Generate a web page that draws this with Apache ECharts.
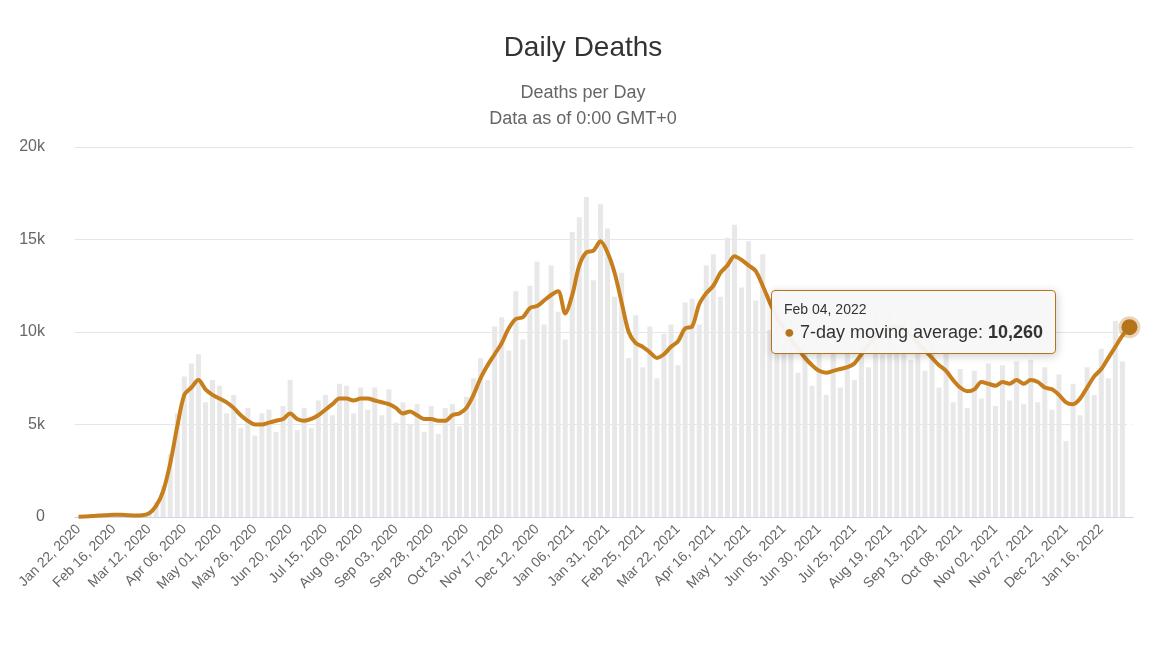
<!DOCTYPE html>
<html><head><meta charset="utf-8">
<script src="https://cdn.jsdelivr.net/npm/echarts@6/dist/echarts.min.js"></script>
<style>html,body{margin:0;padding:0;background:#fff}#c{width:1166px;height:653px}</style>
</head><body><div id="c"></div>
<script>
// sampled every 5 days from Jan 22, 2020; last point Feb 04, 2022 (thousands)
const startDate = "2020-01-22";
const stepDays = 5;
const lastDate = "2022-02-04";
const movingAvg = [0.02,0.03,0.05,0.08,0.1,0.12,0.12,0.1,0.08,0.09,
0.2,0.6,1.4,2.9,4.9,6.6,7.0,7.4,6.9,6.6,
6.4,6.2,5.9,5.5,5.2,5.0,5.0,5.1,5.2,5.3,
5.6,5.3,5.2,5.3,5.5,5.8,6.1,6.4,6.4,6.3,
6.4,6.4,6.3,6.2,6.1,5.9,5.6,5.7,5.5,5.3,
5.3,5.2,5.2,5.5,5.6,5.9,6.6,7.5,8.2,8.8,
9.4,10.2,10.7,10.8,11.3,11.4,11.7,12.0,12.2,11.0,
12.0,13.6,14.3,14.4,14.9,14.3,13.2,11.6,10.0,9.4,
9.2,8.9,8.6,8.8,9.2,9.5,10.2,10.3,11.5,12.1,
12.5,13.2,13.6,14.1,13.9,13.6,13.3,12.5,11.6,10.8,
10.2,9.6,9.1,8.6,8.2,7.9,7.8,7.9,8.0,8.1,
8.3,8.8,9.3,9.8,10.0,10.2,10.3,10.2,9.8,9.4,
9.0,8.6,8.2,7.9,7.4,7.0,6.8,6.9,7.3,7.2,
7.1,7.3,7.2,7.4,7.2,7.4,7.3,7.0,6.9,6.6,
6.2,6.1,6.4,7.0,7.6,8.0,8.6,9.2,9.8,10.26];
const dailyDeaths = [0.02,0.04,0.06,0.1,0.12,0.1,0.15,0.09,0.07,0.11,
0.3,0.8,1.7,3.4,5.6,7.6,8.3,8.8,6.2,7.4,
7.1,5.6,6.6,4.8,5.9,4.4,5.6,5.8,4.6,6.0,
7.4,4.7,5.9,4.8,6.3,6.6,5.5,7.2,7.1,5.6,
7.0,5.8,7.0,5.5,6.9,5.1,6.2,5.0,6.1,4.6,
6.0,4.5,5.9,6.1,4.9,6.5,7.5,8.6,7.4,10.3,
10.8,9.0,12.2,9.6,12.5,13.8,10.4,13.6,11.1,9.6,
15.4,16.2,17.3,12.8,16.9,15.6,11.9,13.2,8.6,10.9,
8.1,10.3,7.5,9.9,10.4,8.2,11.6,11.8,10.4,13.6,
14.2,11.9,15.1,15.8,12.4,14.9,11.7,14.2,10.1,12.3,
9.2,10.8,7.8,9.9,7.1,9.0,6.6,8.9,7.0,9.2,
7.4,9.9,8.1,11.0,8.8,11.3,9.1,11.6,8.5,10.6,
7.9,9.7,7.0,9.1,6.2,8.0,5.9,7.9,6.4,8.3,
6.0,8.2,6.3,8.4,6.1,8.5,6.2,8.1,5.8,7.7,
4.1,7.2,5.5,8.1,6.6,9.1,7.5,10.6,8.4,12.3];

const MON=['Jan','Feb','Mar','Apr','May','Jun','Jul','Aug','Sep','Oct','Nov','Dec'];
function fmt(d){return MON[d.getUTCMonth()]+' '+String(d.getUTCDate()).padStart(2,'0')+', '+d.getUTCFullYear();}
const dates=[];
const s=new Date(startDate+'T00:00:00Z');
for(let i=0;i<movingAvg.length-1;i++){dates.push(fmt(new Date(s.getTime()+i*stepDays*86400000)));}
dates.push(fmt(new Date(lastDate+'T00:00:00Z')));

const lineColor='#b5731b';
const lastIdx=movingAvg.length-1;

const chart=echarts.init(document.getElementById('c'));
chart.setOption({
  animation:false,
  title:[{text:'Daily Deaths',left:'center',top:29,textStyle:{fontFamily:'Liberation Sans',fontSize:28,fontWeight:'normal',color:'#333'}},
         {text:'Deaths per Day\nData as of 0:00 GMT+0',left:'center',top:75,textStyle:{fontFamily:'Liberation Sans',fontSize:18,fontWeight:'normal',color:'#666',lineHeight:26}}],
  grid:{left:75,right:33,top:147,bottom:136},
  tooltip:{trigger:'axis',axisPointer:{type:'none'},alwaysShowContent:true,backgroundColor:'rgba(247,247,247,0.95)',borderColor:lineColor,borderWidth:1.5,
    padding:[8,12],position:function(){return [771,290];},
    textStyle:{fontFamily:'Liberation Sans',color:'#333'},
    formatter:function(ps){const p=ps.find(q=>q.seriesIndex===1);return '<div style="font-size:14px;line-height:20px">'+p.name+'</div><div style="font-size:18px;line-height:26px"><span style="color:'+lineColor+'">●</span> 7-day moving average: <b>'+Math.round(p.value).toLocaleString('en-US')+'</b></div>';}},
  xAxis:{type:'category',data:dates,boundaryGap:true,
    axisLine:{lineStyle:{color:'#ccd6eb'}},axisTick:{show:false},
    axisLabel:{interval:4,rotate:45,color:'#666',fontFamily:'Liberation Sans',fontSize:14,margin:10}},
  yAxis:{type:'value',min:0,max:20000,interval:5000,
    axisLabel:{color:'#666',fontFamily:'Liberation Sans',fontSize:16,margin:30,formatter:v=>v===0?'0':(v/1000)+'k'},
    splitLine:{lineStyle:{color:'#e6e6e6'}}},
  series:[
    {type:'bar',data:dailyDeaths.map(v=>v*1000),barWidth:5,itemStyle:{color:'#e8e8e8'},silent:true},
    {type:'line',data:movingAvg.map(v=>v*1000),symbol:'none',smooth:0.3,lineStyle:{color:lineColor,width:4},itemStyle:{color:lineColor},
     markPoint:{symbol:'circle',symbolSize:16,silent:true,label:{show:false},
       itemStyle:{color:lineColor,borderColor:'rgba(181,115,27,0.3)',borderWidth:6},
       data:[{coord:[dates[lastIdx],movingAvg[lastIdx]*1000]}]}}
  ]
});
chart.dispatchAction({type:'showTip',seriesIndex:1,dataIndex:lastIdx});
</script></body></html>
